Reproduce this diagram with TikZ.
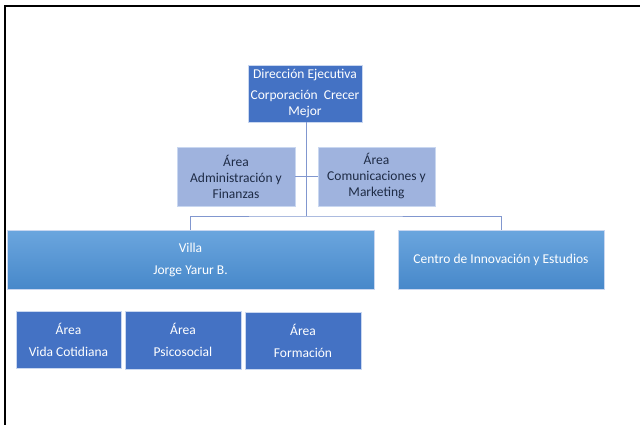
\documentclass[tikz,border=0pt]{standalone}
\usepackage{fontspec}
\setmainfont{Carlito}
\definecolor{dark}{HTML}{4472C4}
\definecolor{soft}{HTML}{9FB3DE}
\definecolor{gradtop}{HTML}{6BA6DE}
\definecolor{gradbot}{HTML}{4788CA}
\definecolor{edgeline}{HTML}{C9D7F0}
\definecolor{link}{HTML}{8197CF}
\definecolor{softtext}{HTML}{1E2B45}
\tikzset{
  unit/.style={draw=edgeline, line width=0.8pt, align=center, font=\fontsize{13.5}{16}\selectfont, inner sep=0pt},
  darkbox/.style={unit, fill=dark, text=white},
  softbox/.style={unit, fill=soft, text=softtext},
  gradbox/.style={unit, top color=gradtop, bottom color=gradbot, text=white},
  link/.style={draw=link, line width=1pt},
}
\begin{document}
\begin{tikzpicture}[x=1pt,y=-1pt]
\useasboundingbox (0,0) rectangle (640,425);
\fill[white] (0,0) rectangle (640,425);
% page frame
\draw[line width=2pt, black] (5,425) -- (5,6) -- (640,6);

% executive direction
\node[darkbox, minimum width=114pt, minimum height=57pt] (dir) at (305,93.5)
  {Dirección Ejecutiva\\[5pt]Corporación\ \ Crecer\\Mejor};

% staff areas
\node[softbox, minimum width=118pt, minimum height=59pt] (adm) at (236,176.5)
  {Área\\Administración y\\Finanzas};
\node[softbox, minimum width=117pt, minimum height=59pt] (com) at (376.5,176.5)
  {Área\\Comunicaciones y\\Marketing};

% second level
\node[gradbox, minimum width=367pt, minimum height=59pt] (villa) at (190.5,259.5)
  {Villa\\[6pt]Jorge Yarur B.};
\node[gradbox, minimum width=206pt, minimum height=59pt] (centro) at (501,259.5)
  {Centro de Innovación y Estudios};

% areas of the villa
\node[darkbox, minimum width=105pt, minimum height=57pt] (vida) at (68.5,339.5)
  {Área\\[6pt]Vida Cotidiana};
\node[darkbox, minimum width=116pt, minimum height=58pt] (psico) at (183,340)
  {Área\\[6pt]Psicosocial};
\node[darkbox, minimum width=116pt, minimum height=57pt] (form) at (303,340.5)
  {Área\\[6pt]Formación};

% connectors
\coordinate (hub) at (306,216);
\draw[link] (dir.south -| hub) -- (hub);
\draw[link] (adm.east) -- (com.west);
\draw[link] (villa.north) |- (hub) -| (centro.north);
\end{tikzpicture}
\end{document}
